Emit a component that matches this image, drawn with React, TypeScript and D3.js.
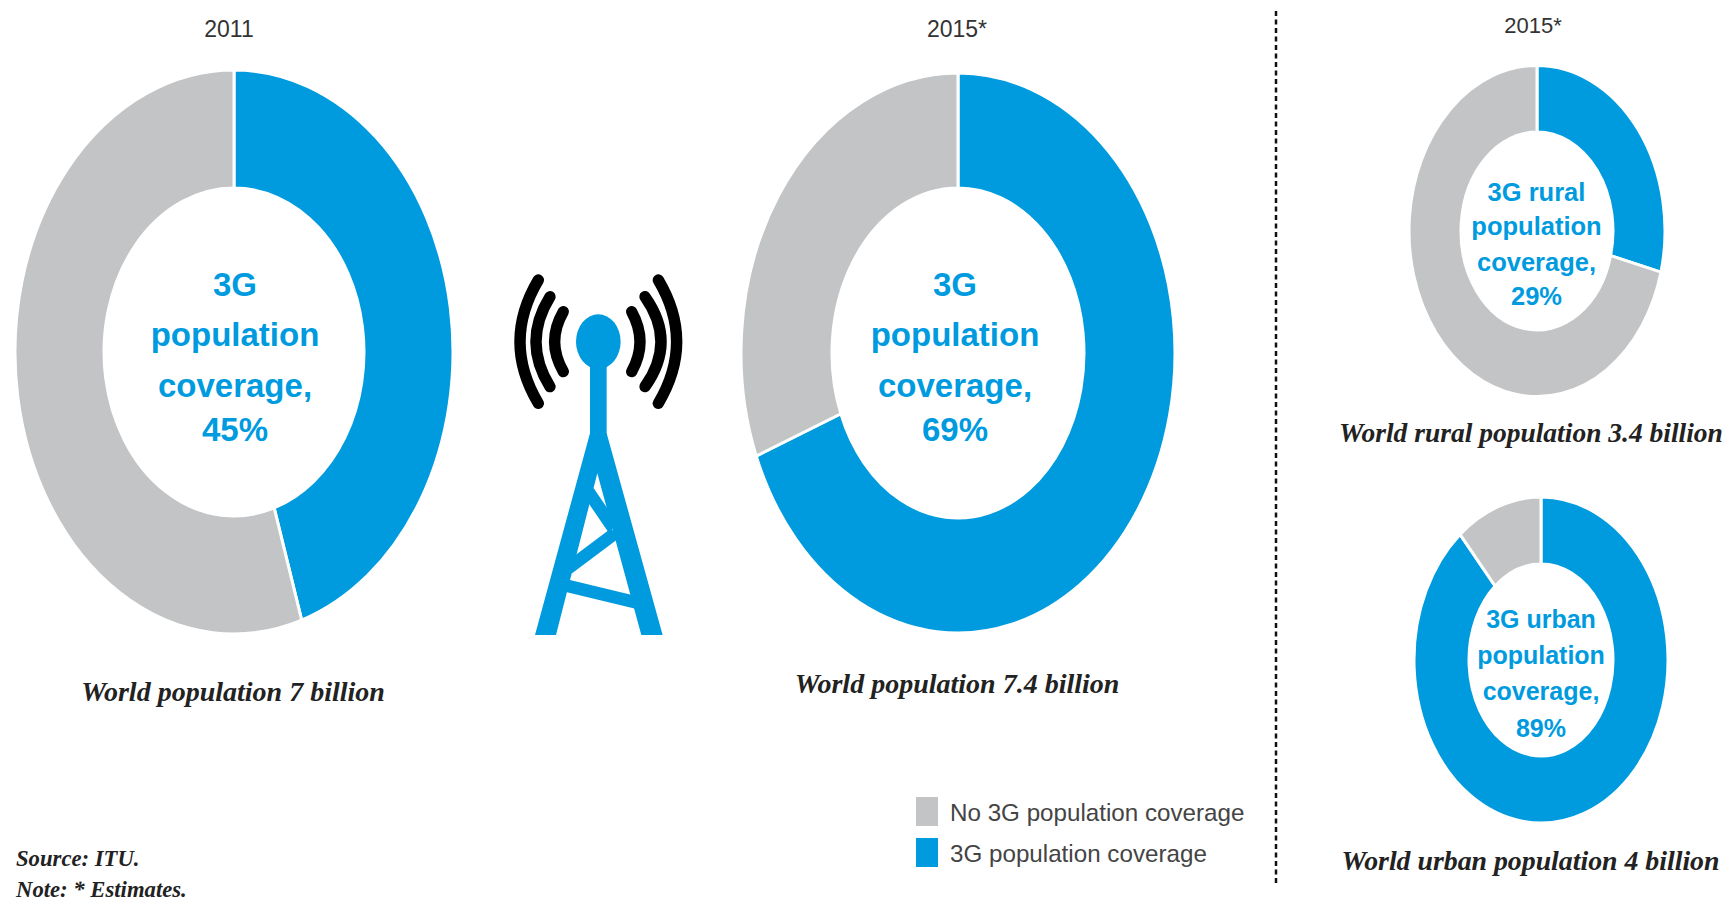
import React from "react";
import * as d3 from "d3";

const BLUE = "#009bdf";
const GREY = "#c2c4c6";
const SANS = "'Liberation Sans', Arial, sans-serif";
const SERIF = "'Liberation Serif', serif";

// 3G coverage share for each ring, in percent
const ringNames = ["world2011", "world2015", "rural2015", "urban2015"];
const coverageValues = [45, 69, 29, 89];
const ringYears = ["2011", "2015*", "2015*", ""];
const ringCaptions = [
  "World population 7 billion",
  "World population 7.4 billion",
  "World rural population 3.4 billion",
  "World urban population 4 billion",
];
const ringLabels = [
  ["3G", "population", "coverage,", "45%"],
  ["3G", "population", "coverage,", "69%"],
  ["3G rural", "population", "coverage,", "29%"],
  ["3G urban", "population", "coverage,", "89%"],
];

// Ring geometry: centre, outer and inner radii (rings are drawn slightly elongated)
const ringLayout = [
  { cx: 234, cy: 352, rx: 219, ry: 282, irx: 130, iry: 164, labelX: 235, size: 33, lines: [296, 346, 397, 441], yearX: 229, yearY: 37, yearSize: 23, capX: 233, capY: 701, capSize: 28 },
  { cx: 958, cy: 353, rx: 217, ry: 280, irx: 126, iry: 165, labelX: 955, size: 33, lines: [296, 346, 397, 441], yearX: 957, yearY: 37, yearSize: 23, capX: 957, capY: 693, capSize: 28 },
  { cx: 1537, cy: 231, rx: 128, ry: 165.5, irx: 76, iry: 99, labelX: 1536.5, size: 25.5, lines: [201, 235, 271, 305], yearX: 1533, yearY: 33, yearSize: 22, capX: 1531, capY: 442, capSize: 27.5 },
  { cx: 1541, cy: 660, rx: 127, ry: 163, irx: 72, iry: 96, labelX: 1541, size: 25, lines: [628, 664, 700, 737], yearX: 0, yearY: 0, yearSize: 22, capX: 1530.5, capY: 870, capSize: 27.8 },
];

const legendLabels = ["No 3G population coverage", "3G population coverage"];
const legendColors = [GREY, BLUE];
const legendTop = [797, 838];
const notes = ["Source: ITU.", "Note: * Estimates."];
const noteBaselines = [866, 897];

// Mast outline and signal waves, in icon units
const towerLegs = [
  [[330, 580], [165, 1185], [228, 1185], [352, 700], [484, 1185], [548, 1185], [380, 580]],
];
const towerBraces = [
  [[325, 755], [400, 865]],
  [[405, 880], [265, 985]],
  [[250, 1035], [480, 1090]],
];
const waves = [
  [175, 120, 120, 490],
  [210, 170, 168, 440],
  [250, 215, 224, 395],
  [535, 120, 590, 490],
  [495, 170, 543, 440],
  [455, 215, 480, 395],
];

// Builds one elliptical ring segment; the angles come from d3.pie, clockwise from twelve o'clock
function ringSegment(s: d3.PieArcDatum<number>, l: (typeof ringLayout)[number]) {
  const at = (a: number, rx: number, ry: number) => `${l.cx + rx * Math.sin(a)},${l.cy - ry * Math.cos(a)}`;
  const large = s.endAngle - s.startAngle > Math.PI ? 1 : 0;
  return [
    `M${at(s.startAngle, l.rx, l.ry)}`,
    `A${l.rx},${l.ry} 0 ${large} 1 ${at(s.endAngle, l.rx, l.ry)}`,
    `L${at(s.endAngle, l.irx, l.iry)}`,
    `A${l.irx},${l.iry} 0 ${large} 0 ${at(s.startAngle, l.irx, l.iry)}`,
    "Z",
  ].join("");
}

function Ring({ value, layout, index }: { value: number; layout: (typeof ringLayout)[number]; index: number }) {
  const slices = d3.pie<number>().sort(null)([value, 100 - value]);
  return (
    <g>
      {slices.map((s, i) => (
        <path key={i} d={ringSegment(s, layout)} fill={i === 0 ? BLUE : GREY} stroke="#fff" strokeWidth={3} />
      ))}
      {ringLabels[index].map((t, i) => (
        <text
          key={i}
          x={layout.labelX}
          y={layout.lines[i]}
          textAnchor="middle"
          fontFamily={SANS}
          fontWeight={700}
          fontSize={layout.size}
          fill={BLUE}
        >
          {t}
        </text>
      ))}
      {ringYears[index] && (
        <text x={layout.yearX} y={layout.yearY} textAnchor="middle" fontFamily={SANS} fontSize={layout.yearSize} fill="#333">
          {ringYears[index]}
        </text>
      )}
      <text
        x={layout.capX}
        y={layout.capY}
        textAnchor="middle"
        fontFamily={SERIF}
        fontStyle="italic"
        fontWeight={700}
        fontSize={layout.capSize}
        fill="#222"
      >
        {ringCaptions[index]}
      </text>
    </g>
  );
}

function Tower() {
  const line = d3.line();
  const wave = (w: number[]) => {
    const p = d3.path();
    const [x, y0, bulge, y1] = w;
    p.moveTo(x, y0);
    p.quadraticCurveTo(2 * bulge - x, (y0 + y1) / 2, x, y1);
    return p.toString();
  };
  return (
    <g transform="translate(480,240) scale(0.3333)">
      {waves.map((w, i) => (
        <path key={i} d={wave(w)} fill="none" stroke="#000" strokeWidth={34} strokeLinecap="round" />
      ))}
      <ellipse cx={355} cy={305} rx={67} ry={82} fill={BLUE} />
      <rect x={330} y={340} width={50} height={260} fill={BLUE} />
      {towerLegs.map((l, i) => (
        <path key={i} d={`${line(l as [number, number][])}Z`} fill={BLUE} />
      ))}
      {towerBraces.map((b, i) => (
        <path key={i} d={line(b as [number, number][]) ?? ""} stroke={BLUE} strokeWidth={38} />
      ))}
    </g>
  );
}

export default function App() {
  return (
    <svg
      width={1735}
      height={903}
      style={{ position: "absolute", left: 0, top: 0, background: "#fff" }}
      data-rings={ringNames.join(" ")}
    >
      {coverageValues.map((v, i) => (
        <Ring key={ringNames[i]} value={v} layout={ringLayout[i]} index={i} />
      ))}
      <Tower />
      <line x1={1276} x2={1276} y1={11} y2={886} stroke="#111" strokeWidth={2.5} strokeDasharray="5 3.5" />
      {legendLabels.map((t, i) => (
        <g key={t}>
          <rect x={916} y={legendTop[i]} width={22} height={29} fill={legendColors[i]} />
          <text x={950} y={legendTop[i] + 24} fontFamily={SANS} fontSize={24.2} fill="#444">
            {t}
          </text>
        </g>
      ))}
      {notes.map((t, i) => (
        <text key={t} x={16} y={noteBaselines[i]} fontFamily={SERIF} fontStyle="italic" fontWeight={700} fontSize={22.7} fill="#222">
          {t}
        </text>
      ))}
    </svg>
  );
}
